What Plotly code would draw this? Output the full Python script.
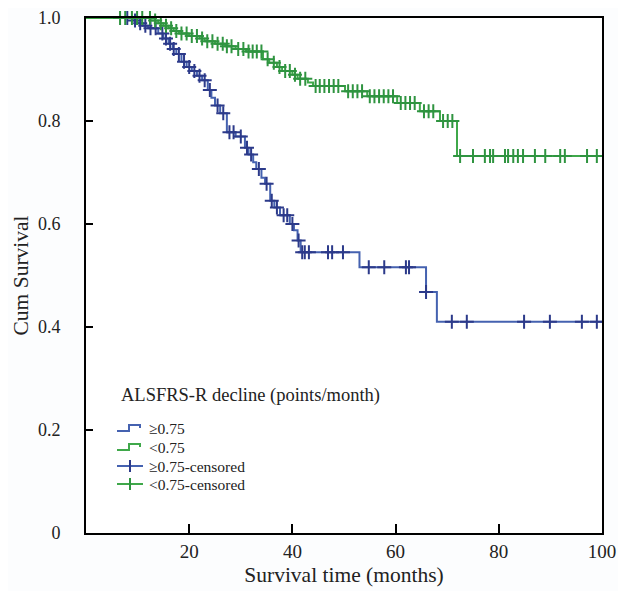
import plotly.graph_objects as go
import numpy as np

# ---- data ----
blue_t = [9, 10, 11, 12, 14, 15, 16, 16.8, 17.5, 18.5, 19.5, 20.5, 21.5, 22.5, 23.6, 24.3, 25, 26,
          27.3, 29, 30.8, 31.5, 32.4, 33, 34, 34.7, 35.7, 36.5, 37.6, 39.5, 40.3, 41, 41.6, 53, 65.9, 68]
blue_s = [0.995, 0.99, 0.985, 0.98, 0.97, 0.96, 0.95, 0.94, 0.93, 0.915, 0.905, 0.897, 0.888, 0.879,
          0.86, 0.845, 0.83, 0.815, 0.778, 0.77, 0.748, 0.735, 0.72, 0.707, 0.69, 0.678, 0.645, 0.632,
          0.617, 0.60, 0.588, 0.568, 0.545, 0.516, 0.468, 0.41]
blue_cens = [8, 9.5, 10.5, 11.5, 12.5, 13.5, 14.8, 15.5, 16.3, 17, 18, 19, 20, 21, 22, 23, 24, 25.5,
             26.6, 27.8, 28.6, 30, 31.2, 32, 33.5, 35, 36, 37, 38.3, 39, 40, 41.2,
             41.9, 42.4, 43.2, 46.9, 47.7, 49.8, 54.8, 57.8, 62, 62.6, 65.9,
             70.9, 73.8, 84.9, 89.9, 96.1, 99]

green_t = [12.5, 14, 15, 16, 17, 18, 20, 22, 23, 25, 27, 29, 31, 34.3, 35.5, 37, 38, 40, 41, 43, 44,
           50.2, 54.5, 60.3, 64.7, 68.6, 71.9]
green_s = [0.995, 0.99, 0.985, 0.98, 0.975, 0.97, 0.965, 0.96, 0.955, 0.95, 0.945, 0.94, 0.935, 0.92,
           0.913, 0.905, 0.897, 0.89, 0.882, 0.875, 0.868, 0.858, 0.848, 0.835, 0.819, 0.80, 0.732]
green_cens = [6.6, 7.6, 8.9, 9.9, 10.9, 12.4, 13.4, 14.5, 15.5, 16.5, 17.5, 18.5, 19.5, 20.5, 21.5,
              22.5, 23.5, 24.5, 25.5, 26.5, 27.3, 28.2, 29.5, 30.5, 31.5, 32.3, 33.1, 34, 35.2, 36.4,
              37.5, 38.6, 39.5, 40.5, 41.5, 42.5, 44.5, 45.3, 46.2, 47.1, 48, 48.9, 50.8, 51.7, 52.6,
              53.5, 55.0, 55.9, 56.8, 57.7, 58.6, 59.5, 61, 61.9, 62.8, 63.7, 65.5, 66.4, 67.3, 69.2,
              70.1, 71, 72.5, 75, 77.3, 78.3, 78.9, 81.2, 81.8, 82.8, 83.7, 84.7, 87, 89, 91.9, 92.8,
              97.1, 99]

x_ticks = [20, 40, 60, 80, 100]
y_ticks = [0, 0.2, 0.4, 0.6, 0.8, 1.0]
y_tick_labels = ["0", "0.2", "0.4", "0.6", "0.8", "1.0"]

legend_title = "ALSFRS-R decline (points/month)"
legend_labels = ["≥0.75", "<0.75", "≥0.75-censored", "<0.75-censored"]

BLUE_LINE = "#4562b0"
BLUE_MARK = "#2c3a8a"
GREEN_LINE = "#3fa84a"
GREEN_MARK = "#2f9440"
FONT = "Liberation Serif, Times New Roman, DejaVu Serif, serif"

# page has an 8px body margin; figure occupies (8..626, 8..591) of the window
OFF = 8
W, H = 626 - OFF, 591 - OFF
PL, PR, PT, PB = 86, 602, 18, 533          # plot area in window pixels
L, R, T, B = PL - OFF, 626 - PR, PT - OFF, 591 - PB


def step_value(ts, ss, t):
    v = 1.0
    for ti, si in zip(ts, ss):
        if t >= ti:
            v = si
    return v


fig = go.Figure()
for ts, ss, cens, lc, mc in [(blue_t, blue_s, blue_cens, BLUE_LINE, BLUE_MARK),
                             (green_t, green_s, green_cens, GREEN_LINE, GREEN_MARK)]:
    fig.add_trace(go.Scatter(x=[0] + ts + [100], y=[1.0] + ss + [ss[-1]], mode="lines",
                             line=dict(color=lc, width=2, shape="hv"), showlegend=False,
                             cliponaxis=False))
    fig.add_trace(go.Scatter(x=cens, y=[step_value(ts, ss, c) for c in cens], mode="markers",
                             marker=dict(symbol="cross-thin", size=10, line=dict(color=mc, width=2)),
                             showlegend=False, cliponaxis=False))

# ---- custom legend (positions given in window pixels) ----
def px(x):
    return (x - PL) / (PR - PL)


def py(y):
    return (PB - y) / (PB - PT)


fig.add_annotation(x=px(119), y=py(395), xref="paper", yref="paper", text=legend_title,
                   showarrow=False, xanchor="left", yanchor="middle",
                   font=dict(family=FONT, size=18.5, color="#222222"))
rows = [428, 447, 466, 484]
cols = [(BLUE_LINE, BLUE_MARK), (GREEN_LINE, GREEN_MARK), (BLUE_LINE, BLUE_MARK), (GREEN_LINE, GREEN_MARK)]
for i, (ry, lab, (lc, mc)) in enumerate(zip(rows, legend_labels, cols)):
    if i < 2:
        path = "M {} {} L {} {} L {} {} L {} {} L {} {}".format(
            px(117), py(ry + 3), px(129), py(ry + 3), px(129), py(ry - 3),
            px(140), py(ry - 3), px(140), py(ry))
        fig.add_shape(type="path", path=path, xref="paper", yref="paper",
                      line=dict(color=lc, width=2))
    else:
        fig.add_shape(type="line", x0=px(117), x1=px(143), y0=py(ry), y1=py(ry),
                      xref="paper", yref="paper", line=dict(color=lc, width=2))
        fig.add_shape(type="line", x0=px(130), x1=px(130), y0=py(ry - 6), y1=py(ry + 6),
                      xref="paper", yref="paper", line=dict(color=mc, width=2))
    fig.add_annotation(x=px(147), y=py(ry), xref="paper", yref="paper", text=lab,
                       showarrow=False, xanchor="left", yanchor="middle",
                       font=dict(family=FONT, size=15.5, color="#222222"))

fig.update_layout(
    width=W, height=H,
    margin=dict(l=L, r=R, t=T, b=B, autoexpand=False),
    paper_bgcolor="#fcfdfe", plot_bgcolor="#ffffff",
    font=dict(family=FONT, size=18, color="#222222"),
    showlegend=False,
)
fig.update_xaxes(range=[0, 100], tickvals=x_ticks, ticks="inside", ticklen=9, tickwidth=2,
                 tickcolor="black", showline=True, linecolor="black", linewidth=2, mirror=True,
                 showgrid=False, zeroline=False, automargin=False, ticklabeloverflow="allow",
                 title=dict(text="Survival time (months)", font=dict(family=FONT, size=21.5), standoff=6),
                 tickfont=dict(family=FONT, size=19))
fig.update_yaxes(range=[0, 1.0], tickvals=y_ticks, ticktext=y_tick_labels, ticks="inside", ticklen=7,
                 tickwidth=2, tickcolor="black", showline=True, linecolor="black", linewidth=2,
                 mirror=True, showgrid=False, zeroline=False, ticklabelstandoff=20, automargin=False,
                 ticklabeloverflow="allow",
                 title=dict(text="Cum Survival", font=dict(family=FONT, size=21.5), standoff=3),
                 tickfont=dict(family=FONT, size=18))

fig.write_html("out.html")
